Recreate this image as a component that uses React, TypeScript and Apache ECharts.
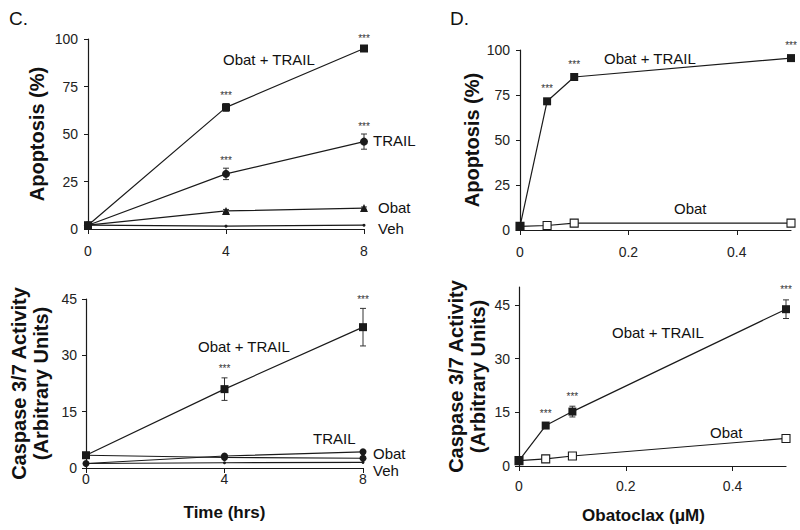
import React, { useEffect, useRef } from "react";
import * as echarts from "echarts";

// ---------- data ----------
const timeHrs = [0, 4, 8];
const timeTicks = [0, 4, 8];

const apopObatTrail = [2, 64, 95];
const apopObatTrailErr = [0.5, 2, 1];
const apopTrail = [2, 29, 46];
const apopTrailErr = [0.5, 3, 4];
const apopObat = [2, 9.5, 11];
const apopObatErr = [0.3, 0.8, 0.6];
const apopVeh = [2, 1.5, 2];

const caspObatTrail = [3.4, 21, 37.5];
const caspObatTrailErr = [0.3, 3, 5];
const caspTrail = [1.2, 3.2, 4.3];
const caspObat = [3.4, 2.8, 2.6];
const caspVeh = [1.2, 1.4, 1.5];

const obatConc = [0, 0.05, 0.1, 0.5];
const doseTicks = [0, 0.2, 0.4];
const doseApopObatTrail = [2, 71.5, 85, 95.5];
const doseApopObatTrailErr = [0.5, 1, 1, 1];
const doseApopObat = [2, 2.5, 3.8, 3.8];
const doseCaspObatTrail = [1.5, 11.3, 15.2, 43.8];
const doseCaspObatTrailErr = [0.2, 0.6, 1.5, 2.6];
const doseCaspObat = [1.5, 2.0, 2.8, 7.7];

const apopTicks = [0, 25, 50, 75, 100];
const caspTicks = [0, 15, 30, 45];

const timeSig = [false, true, true];
const doseSig = [false, true, true, true];

// ---------- helpers ----------
const INK = "#1a1a1a";
const FONT = "'Liberation Sans', Arial, Helvetica, sans-serif";

const pairs = (xs: number[], ys: number[]) => xs.map((x, i) => [x, ys[i]]);
const bars = (xs: number[], ys: number[], es: number[]) =>
  xs.map((x, i) => [x, ys[i] - es[i], ys[i] + es[i]]);
const stars = (xs: number[], ys: number[], es: number[], sig: boolean[]) =>
  xs.map((x, i) => (sig[i] ? [x, ys[i] + es[i]] : null)).filter((d) => d !== null);

function lineSeries(idx: number, data: any[], symbol: string, size: number, filled = true) {
  return {
    type: "line",
    xAxisIndex: idx,
    yAxisIndex: idx,
    data,
    symbol,
    symbolSize: size,
    showSymbol: true,
    clip: false,
    silent: true,
    z: 3,
    lineStyle: { color: INK, width: 1.2 },
    itemStyle: filled
      ? { color: INK, borderWidth: 0 }
      : { color: "#ffffff", borderColor: INK, borderWidth: 1.1 },
  };
}

function errSeries(idx: number, data: any[]) {
  return {
    type: "custom",
    xAxisIndex: idx,
    yAxisIndex: idx,
    data,
    encode: { x: 0, y: [1, 2] },
    silent: true,
    z: 2,
    clip: false,
    renderItem: (params: any, api: any) => {
      const x = api.value(0);
      const lo = api.coord([x, api.value(1)]);
      const hi = api.coord([x, api.value(2)]);
      const w = 3;
      const style = { stroke: "#333", lineWidth: 1 };
      return {
        type: "group",
        children: [
          { type: "line", shape: { x1: lo[0], y1: lo[1], x2: hi[0], y2: hi[1] }, style },
          { type: "line", shape: { x1: lo[0] - w, y1: lo[1], x2: lo[0] + w, y2: lo[1] }, style },
          { type: "line", shape: { x1: hi[0] - w, y1: hi[1], x2: hi[0] + w, y2: hi[1] }, style },
        ],
      };
    },
  };
}

function starSeries(idx: number, data: any[], dist: number) {
  return {
    type: "custom",
    xAxisIndex: idx,
    yAxisIndex: idx,
    data,
    encode: { x: 0, y: 1 },
    silent: true,
    clip: false,
    z: 4,
    renderItem: (params: any, api: any) => {
      const p = api.coord([api.value(0), api.value(1)]);
      return {
        type: "text",
        x: p[0],
        y: p[1] - dist,
        style: {
          text: "***",
          fill: "#333",
          font: `10px ${FONT}`,
          align: "center",
          verticalAlign: "bottom",
          textAlign: "center",
          textVerticalAlign: "bottom",
        },
      };
    },
  };
}

function xAxis(
  idx: number,
  max: number,
  ticks: number[],
  margin: number,
  name: string,
  nameGap: number,
  namePad: number[]
) {
  return {
    type: "value",
    gridIndex: idx,
    min: 0,
    max,
    splitLine: { show: false },
    axisLine: { show: true, onZero: false, lineStyle: { color: INK, width: 1.2 } },
    axisTick: { show: true, length: 5, customValues: ticks, lineStyle: { color: INK, width: 1 } },
    axisLabel: {
      customValues: ticks,
      margin,
      fontSize: 14,
      color: "#222",
      fontFamily: FONT,
    },
    name,
    nameLocation: "middle",
    nameGap,
    nameTextStyle: {
      fontSize: 17,
      fontWeight: "bold",
      color: "#111",
      fontFamily: FONT,
      padding: namePad,
    },
  };
}

function yAxis(idx: number, max: number, ticks: number[], name: string, nameGap: number, margin: number) {
  return {
    type: "value",
    gridIndex: idx,
    min: 0,
    max,
    splitLine: { show: false },
    axisLine: { show: true, onZero: false, lineStyle: { color: INK, width: 1.2 } },
    axisTick: { show: true, length: 4, customValues: ticks, lineStyle: { color: INK, width: 1 } },
    axisLabel: {
      customValues: ticks,
      margin,
      fontSize: 14,
      color: "#222",
      fontFamily: FONT,
    },
    name,
    nameLocation: "middle",
    nameRotate: 90,
    nameGap,
    nameTextStyle: {
      fontSize: 20,
      fontWeight: "bold",
      color: "#111",
      fontFamily: FONT,
      lineHeight: 22,
    },
  };
}

function txt(text: string, x: number, y: number, size = 15) {
  return {
    type: "text",
    x,
    y,
    silent: true,
    style: {
      text,
      fill: "#111",
      font: `${size}px ${FONT}`,
      textAlign: "left",
      textVerticalAlign: "middle",
      align: "left",
      verticalAlign: "middle",
    },
  };
}

export default function App() {
  const ref = useRef<HTMLDivElement>(null);

  useEffect(() => {
    if (!ref.current) return;
    const chart = echarts.init(ref.current, null, { renderer: "svg" });

    const option: any = {
      animation: false,
      backgroundColor: "#ffffff",
      grid: [
        { left: 88, top: 39, width: 276, height: 190 },
        { left: 86, top: 299, width: 277, height: 169 },
        { left: 520, top: 50, width: 271, height: 180 },
        { left: 519, top: 287, width: 267, height: 179 },
      ],
      xAxis: [
        xAxis(0, 8, timeTicks, 15, "", 30, [0, 0, 0, 0]),
        xAxis(1, 8, timeTicks, 4, "Time (hrs)", 36, [0, 0, 0, 0]),
        xAxis(2, 0.5, doseTicks, 15, "", 30, [0, 0, 0, 0]),
        xAxis(3, 0.5, doseTicks, 13, "Obatoclax (\u03bcM)", 41, [0, 18, 0, 0]),
      ],
      yAxis: [
        yAxis(0, 100, apopTicks, "Apoptosis (%)", 40, 10),
        yAxis(1, 45, caspTicks, "Caspase 3/7 Activity\n(Arbitrary Units)", 34, 9),
        yAxis(2, 100, apopTicks, "Apoptosis (%)", 37, 10),
        yAxis(3, 50, caspTicks, "Caspase 3/7 Activity\n(Arbitrary Units)", 30, 9),
      ],
      series: [
        // Panel C, apoptosis
        lineSeries(0, pairs(timeHrs, apopVeh), "circle", 3),
        lineSeries(0, pairs(timeHrs, apopObat), "triangle", 8),
        lineSeries(0, pairs(timeHrs, apopTrail), "circle", 8),
        lineSeries(0, pairs(timeHrs, apopObatTrail), "rect", 8),
        errSeries(0, bars(timeHrs, apopObat, apopObatErr)),
        errSeries(0, bars(timeHrs, apopTrail, apopTrailErr)),
        errSeries(0, bars(timeHrs, apopObatTrail, apopObatTrailErr)),
        starSeries(0, stars(timeHrs, apopObatTrail, apopObatTrailErr, timeSig), 3),
        starSeries(0, stars(timeHrs, apopTrail, apopTrailErr, timeSig), 3),
        // Panel C, caspase
        lineSeries(1, pairs(timeHrs, caspVeh), "circle", 3),
        lineSeries(1, pairs(timeHrs, caspObat), "circle", 7),
        lineSeries(1, pairs(timeHrs, caspTrail), "circle", 7),
        lineSeries(1, pairs(timeHrs, caspObatTrail), "rect", 8),
        errSeries(1, bars(timeHrs, caspObatTrail, caspObatTrailErr)),
        starSeries(1, stars(timeHrs, caspObatTrail, caspObatTrailErr, timeSig), 4),
        // Panel D, apoptosis
        lineSeries(2, pairs(obatConc, doseApopObat), "rect", 8, false),
        lineSeries(2, pairs(obatConc, doseApopObatTrail), "rect", 8),
        starSeries(2, stars(obatConc, doseApopObatTrail, doseApopObatTrailErr, doseSig), 6),
        // Panel D, caspase
        lineSeries(3, pairs(obatConc, doseCaspObat), "rect", 8, false),
        lineSeries(3, pairs(obatConc, doseCaspObatTrail), "rect", 8),
        errSeries(3, bars(obatConc, doseCaspObatTrail, doseCaspObatTrailErr)),
        starSeries(3, stars(obatConc, doseCaspObatTrail, doseCaspObatTrailErr, doseSig), 5),
      ],
      graphic: [
        txt("C.", 9, 18, 19),
        txt("D.", 450, 18, 19),
        txt("Obat + TRAIL", 223, 59),
        txt("TRAIL", 373, 140),
        txt("Obat", 378, 207),
        txt("Veh", 378, 228),
        txt("Obat + TRAIL", 198, 346),
        txt("TRAIL", 313, 438),
        txt("Obat", 373, 453),
        txt("Veh", 373, 470),
        txt("Obat + TRAIL", 604, 58),
        txt("Obat", 674, 208),
        txt("Obat + TRAIL", 612, 332),
        txt("Obat", 710, 432),
      ],
    };

    chart.setOption(option);
    return () => chart.dispose();
  }, []);

  return (
    <div
      ref={ref}
      style={{ position: "fixed", left: 0, top: 0, width: 800, height: 530, background: "#fff" }}
    />
  );
}
